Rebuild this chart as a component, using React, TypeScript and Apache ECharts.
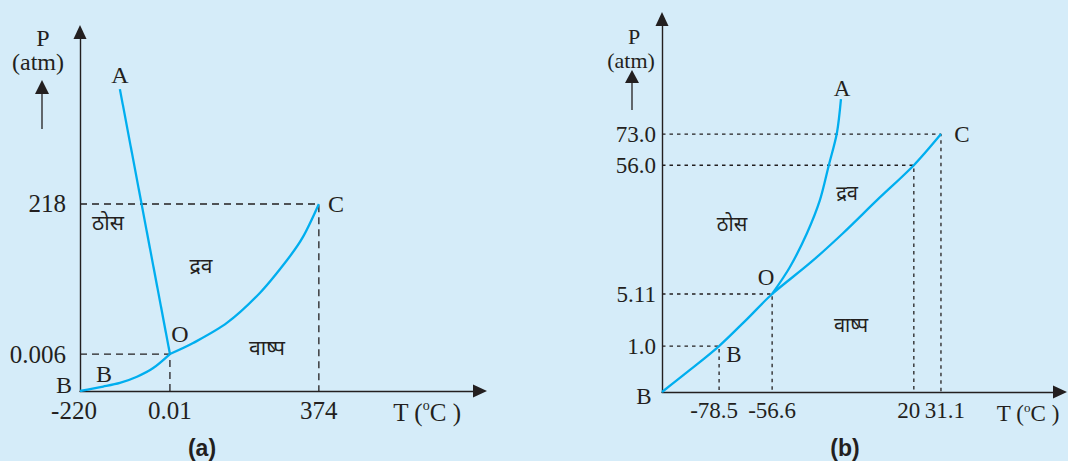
import React, { useEffect, useRef } from 'react';
import * as echarts from 'echarts';

// ---------- (a) water : schematic axis positions and printed values ----------
const waterTempLabels = ['-220', '0.01', '374'];
const waterTempPos = [0, 22.1, 58.7];
const waterPresLabels = ['0.006', '218'];
const waterPresPos = [10.1, 51.1];
// fusion line O -> A
const waterFusionT = [22.1, 9.8];
const waterFusionP = [10.1, 82.5];
// sublimation curve B -> O
const waterSublT = [0, 5.7, 9.8, 14.0, 17.9, 22.1];
const waterSublP = [0, 1.2, 2.2, 3.9, 6.2, 10.1];
// vapour pressure curve O -> C
const waterVapourT = [22.1, 27.8, 36.1, 44.2, 50.9, 54.8, 58.7];
const waterVapourP = [10.1, 13.1, 18.6, 26.8, 35.8, 42.1, 51.1];
// guide lines: [temperature label index, pressure label index]
const waterGuides = [[2, 1], [1, 0]];

// ---------- (b) carbon dioxide ----------
const co2TempLabels = ['-78.5', '-56.6', '20', '31.1'];
const co2TempPos = [14.1, 27.2, 62.2, 68.9];
const co2PresLabels = ['1.0', '5.11', '56.0', '73.0'];
const co2PresPos = [12.1, 25.8, 59.7, 67.9];
const co2FusionT = [27.2, 31.6, 35.8, 39.0, 41.2, 43.2, 44.2];
const co2FusionP = [25.8, 32.9, 41.8, 50.5, 59.7, 68.2, 77.1];
const co2VapourT = [0, 6.9, 14.1, 21.0, 27.2, 36.5, 44.7, 53.1, 62.2, 68.9];
const co2VapourP = [0, 5.8, 12.1, 19.2, 25.8, 33.9, 41.8, 50.5, 59.7, 67.9];
const co2Guides = [[3, 3], [2, 2], [1, 1], [0, 0]];

const INK = '#231f20';
const CURVE = '#00aeef';
const BG = '#d5ecf9';
const SERIF = "'Liberation Serif', 'Times New Roman', serif";
const DEVA = "'Noto Sans Devanagari', 'Lohit Devanagari', 'Noto Sans', sans-serif";
const BOLD_SANS = "'Liberation Sans', Arial, sans-serif";

const zip = (xs: number[], ys: number[]) => xs.map((x, i) => [x, ys[i]]);

function nearestLabel(v: number, pos: number[], labels: string[]) {
  let best = 0;
  pos.forEach((p, i) => {
    if (Math.abs(p - v) < Math.abs(pos[best] - v)) best = i;
  });
  return labels[best];
}

function xAxisCfg(gridIndex: number, max: number, pos: number[], labels: string[], size: number, shifts: Record<string, string>) {
  return {
    type: 'value', gridIndex, min: 0, max,
    axisLine: { show: true, onZero: false, symbol: ['none', 'triangle'], symbolSize: [13, 14], lineStyle: { color: INK, width: 1.4 } },
    axisTick: { show: false },
    splitLine: { show: false },
    axisLabel: {
      show: true, customValues: pos, margin: 7, color: INK, fontFamily: SERIF, fontSize: size,
      formatter: (v: number) => {
        const l = nearestLabel(v, pos, labels);
        return shifts[l] ? `{${shifts[l]}|${l}}` : l;
      },
      rich: {
        sl: { fontFamily: SERIF, fontSize: size, color: INK, padding: [0, 10, 0, 0] },
        sl2: { fontFamily: SERIF, fontSize: size, color: INK, padding: [0, 12, 0, 0] },
        sr: { fontFamily: SERIF, fontSize: size, color: INK, padding: [0, 0, 0, 8] },
      },
    },
  };
}

function yAxisCfg(gridIndex: number, max: number, pos: number[], labels: string[], size: number, margin: number) {
  return {
    type: 'value', gridIndex, min: 0, max,
    axisLine: { show: true, onZero: false, symbol: ['none', 'triangle'], symbolSize: [13, 14], lineStyle: { color: INK, width: 1.4 } },
    axisTick: { show: false },
    splitLine: { show: false },
    axisLabel: {
      show: true, customValues: pos, margin, color: INK, fontFamily: SERIF, fontSize: size,
      formatter: (v: number) => nearestLabel(v, pos, labels),
    },
  };
}

function guideSeries(idx: number, guides: number[][], tPos: number[], pPos: number[], dash: number[]) {
  return guides.map(([ti, pi]) => ({
    type: 'line', xAxisIndex: idx, yAxisIndex: idx, symbol: 'none', silent: true,
    lineStyle: { color: INK, width: 1.3, type: dash },
    data: [[0, pPos[pi]], [tPos[ti], pPos[pi]], [tPos[ti], 0]],
    z: 1,
  }));
}

function txt(x: number, y: number, text: string, size: number, family = SERIF, weight = 'normal') {
  return {
    type: 'text', x, y, silent: true,
    style: { text, fill: INK, font: `${weight} ${size}px ${family}`, align: 'center', verticalAlign: 'middle' },
  };
}

function unitText(x: number, y: number, size: number) {
  return {
    type: 'text', x, y, silent: true,
    style: {
      text: '{n|T (}{s|o}{n|C )}', align: 'center', verticalAlign: 'middle', fill: INK,
      rich: {
        n: { fontFamily: SERIF, fontSize: size, fill: INK },
        s: { fontFamily: SERIF, fontSize: Math.round(size * 0.55), fill: INK, padding: [0, 0, Math.round(size * 0.5), 0] },
      },
    },
  };
}

function smallArrow(x: number, tip: number, base: number, bottom: number) {
  return [
    { type: 'line', silent: true, shape: { x1: x, y1: bottom, x2: x, y2: base }, style: { stroke: INK, lineWidth: 1.3 } },
    { type: 'polygon', silent: true, shape: { points: [[x, tip], [x - 7, base], [x + 7, base]] }, style: { fill: INK } },
  ];
}

export default function App() {
  const ref = useRef<HTMLDivElement>(null);
  useEffect(() => {
    if (!ref.current) return;
    const chart = echarts.init(ref.current, undefined, { renderer: 'svg' });
    const curve = { color: CURVE, width: 2.3 };
    const line = (idx: number, xs: number[], ys: number[], smooth: number | boolean) => ({
      type: 'line', xAxisIndex: idx, yAxisIndex: idx, symbol: 'none', smooth, silent: true,
      data: zip(xs, ys), lineStyle: curve, z: 3,
    });
    const option: any = {
      animation: false,
      backgroundColor: BG,
      grid: [
        { left: 80, top: 32, width: 400, height: 359, containLabel: false },
        { left: 662, top: 19, width: 398, height: 373, containLabel: false },
      ],
      xAxis: [
        xAxisCfg(0, 98.3, waterTempPos, waterTempLabels, 25, { '-220': 'sl2' }),
        xAxisCfg(1, 98.3, co2TempPos, co2TempLabels, 23, { '20': 'sl', '31.1': 'sr', '-78.5': 'sl' }),
      ],
      yAxis: [
        yAxisCfg(0, 98.1, waterPresPos, waterPresLabels, 25, 14),
        yAxisCfg(1, 98.2, co2PresPos, co2PresLabels, 23, 6),
      ],
      series: [
        ...guideSeries(0, waterGuides, waterTempPos, waterPresPos, [7, 5]),
        ...guideSeries(1, co2Guides, co2TempPos, co2PresPos, [3.5, 4]),
        line(0, waterFusionT, waterFusionP, false),
        line(0, waterSublT, waterSublP, 0.3),
        line(0, waterVapourT, waterVapourP, 0.3),
        line(1, co2FusionT, co2FusionP, 0.3),
        line(1, co2VapourT, co2VapourP, 0.3),
      ],
      graphic: [
        // ----- (a)
        txt(43, 38, 'P', 24),
        txt(38, 62, '(atm)', 24),
        ...smallArrow(42, 80, 94, 129),
        txt(120, 75, 'A', 24),
        txt(336, 204, 'C', 24),
        txt(180, 334, 'O', 24),
        txt(104, 374, 'B', 24),
        txt(64, 385, 'B', 24),
        txt(108, 225, 'ठोस', 21, DEVA),
        txt(201, 268, 'द्रव', 21, DEVA),
        txt(267, 350, 'वाष्प', 21, DEVA),
        unitText(427, 412, 25),
        txt(202, 448, '(a)', 23, BOLD_SANS, 'bold'),
        // ----- (b)
        txt(634, 36, 'P', 22),
        txt(631, 60, '(atm)', 22),
        ...smallArrow(632, 70, 83, 110),
        txt(842, 88, 'A', 23),
        txt(962, 134, 'C', 23),
        txt(766, 277, 'O', 23),
        txt(734, 354, 'B', 23),
        txt(644, 396, 'B', 23),
        txt(732, 226, 'ठोस', 20, DEVA),
        txt(847, 195, 'द्रव', 20, DEVA),
        txt(851, 327, 'वाष्प', 20, DEVA),
        unitText(1028, 413, 23),
        txt(845, 448, '(b)', 23, BOLD_SANS, 'bold'),
      ],
    };
    chart.setOption(option);
    return () => chart.dispose();
  }, []);
  return (
    <div style={{ position: 'fixed', left: 0, top: 0, width: 1068, height: 461, background: BG }}>
      <div ref={ref} style={{ width: 1068, height: 461 }} />
    </div>
  );
}
